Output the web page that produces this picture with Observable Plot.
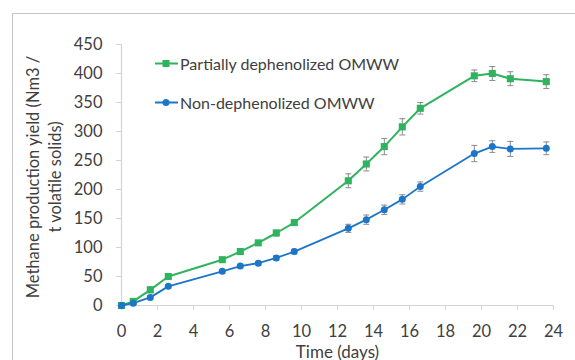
<!DOCTYPE html>
<html>
<head>
<meta charset="utf-8">
<script src="https://cdn.jsdelivr.net/npm/d3@7"></script>
<script src="https://cdn.jsdelivr.net/npm/@observablehq/plot@0.6"></script>
<style>
  html, body { margin: 0; padding: 0; background: #fff; }
  #wrap { position: relative; width: 575px; height: 360px; overflow: hidden; font-family: Lato, "Open Sans", sans-serif; }
  #frame { position: absolute; left: 12px; top: 13px; width: 600px; height: 400px; border-top: 1.5px solid #c6c6c6; border-left: 1.5px solid #c6c6c6; }
  #chart { position: absolute; left: 0; top: 0; }
  .leg { position: absolute; display: flex; align-items: center; font-size: 16px; color: #404040; white-space: nowrap; }
  .leg svg { margin-right: 2px; }
</style>
</head>
<body>
<div id="wrap">
  <div id="frame"></div>
  <div id="chart"></div>
  <div id="legend"></div>
</div>
<script>
// ---- data ----
const days = [0, 0.65, 1.6, 2.6, 5.6, 6.6, 7.6, 8.6, 9.6, 12.6, 13.6, 14.6, 15.6, 16.6, 19.6, 20.6, 21.6, 23.6];
const partialValues = [0, 7, 27, 50, 79, 93, 108, 125, 143, 215, 244, 274, 308, 340, 396, 400, 391, 386];
const partialErrors = [0, 3, 5, 4, 3, 4, 4, 5, 5, 12, 12, 14, 14, 10, 10, 12, 12, 12];
const nonValues = [0, 4, 14, 33, 59, 68, 73, 82, 93, 133, 148, 165, 183, 205, 262, 274, 270, 271];
const nonErrors = [0, 2, 3, 3, 3, 3, 3, 4, 4, 7, 8, 8, 8, 8, 14, 10, 13, 11];
const seriesNames = ["Partially dephenolized OMWW", "Non-dephenolized OMWW"];
const xTicks = [0, 2, 4, 6, 8, 10, 12, 14, 16, 18, 20, 22, 24];
const yTicks = [0, 50, 100, 150, 200, 250, 300, 350, 400, 450];
const xTitle = "Time (days)";
const yTitle = "Methane production yield (Nm3 /\nt volatile solids)";

const green = "#2fb35e";
const blue = "#1c76c8";
const errColor = "#8a8a8a";

const partial = days.map((d, i) => ({x: d, y: partialValues[i], e: partialErrors[i]}));
const non = days.map((d, i) => ({x: d, y: nonValues[i], e: nonErrors[i]}));

const capSymbol = {
  draw(context, size) {
    const r = Math.sqrt(size / Math.PI);
    context.moveTo(-r, 0);
    context.lineTo(r, 0);
  }
};

function errMarks(data) {
  return [
    Plot.ruleX(data.filter(d => d.e > 0), {x: "x", y1: d => d.y - d.e, y2: d => d.y + d.e, stroke: errColor, strokeWidth: 1}),
    Plot.dot(data.filter(d => d.e > 0), {x: "x", y: d => d.y - d.e, symbol: capSymbol, r: 3, stroke: errColor, strokeWidth: 1}),
    Plot.dot(data.filter(d => d.e > 0), {x: "x", y: d => d.y + d.e, symbol: capSymbol, r: 3, stroke: errColor, strokeWidth: 1})
  ];
}

const chart = Plot.plot({
  width: 575,
  height: 360,
  marginLeft: 121,
  marginRight: 22,
  marginTop: 44,
  marginBottom: 55,
  style: {fontFamily: "Lato, 'Open Sans', sans-serif", fontSize: "16.5px", color: "#404040", background: "transparent", overflow: "visible"},
  x: {domain: [0, 24], ticks: xTicks, label: null},
  y: {domain: [0, 450], ticks: yTicks, label: null},
  marks: [
    Plot.ruleY([0], {stroke: "#d4d4d4", strokeWidth: 1.2}),
    Plot.ruleX([0], {stroke: "#d4d4d4", strokeWidth: 1.2}),
    Plot.axisX({ticks: xTicks, tickSize: 5, tickPadding: 15, stroke: "#d4d4d4", fill: "#404040", label: null}),
    Plot.axisY({ticks: yTicks, tickSize: 5, tickPadding: 14, stroke: "#d4d4d4", fill: "#404040", label: null}),
    ...errMarks(partial),
    ...errMarks(non),
    Plot.line(partial, {x: "x", y: "y", stroke: green, strokeWidth: 2}),
    Plot.line(non, {x: "x", y: "y", stroke: blue, strokeWidth: 1.8}),
    Plot.dot(partial, {x: "x", y: "y", symbol: "square", r: 4, fill: green, stroke: "none"}),
    Plot.dot(non, {x: "x", y: "y", symbol: "circle", r: 3.5, fill: blue, stroke: "none"}),
    Plot.text([yTitle], {frameAnchor: "left", rotate: -90, dx: -79, dy: 2, textAnchor: "middle", lineAnchor: "middle", lineHeight: 1.35, fontSize: 16.5, fill: "#404040"}),
    Plot.text([xTitle], {frameAnchor: "bottom", dy: 52, textAnchor: "middle", fontSize: 17, fill: "#404040"})
  ]
});
document.getElementById("chart").appendChild(chart);

// ---- legend (HTML) ----
const legendItems = [
  {name: seriesNames[0], color: green, shape: "square", top: 54},
  {name: seriesNames[1], color: blue, shape: "circle", top: 93}
];
const legend = document.getElementById("legend");
for (const it of legendItems) {
  const div = document.createElement("div");
  div.className = "leg";
  div.style.left = "155px";
  div.style.top = it.top + "px";
  const marker = it.shape === "square"
    ? `<rect x="7.5" y="5" width="7" height="7" fill="${it.color}"/>`
    : `<circle cx="11" cy="8.5" r="3.5" fill="${it.color}"/>`;
  div.innerHTML = `<svg width="23" height="17"><line x1="0" x2="23" y1="8.5" y2="8.5" stroke="${it.color}" stroke-width="2"/>${marker}</svg><span>${it.name}</span>`;
  legend.appendChild(div);
}
</script>
</body>
</html>
